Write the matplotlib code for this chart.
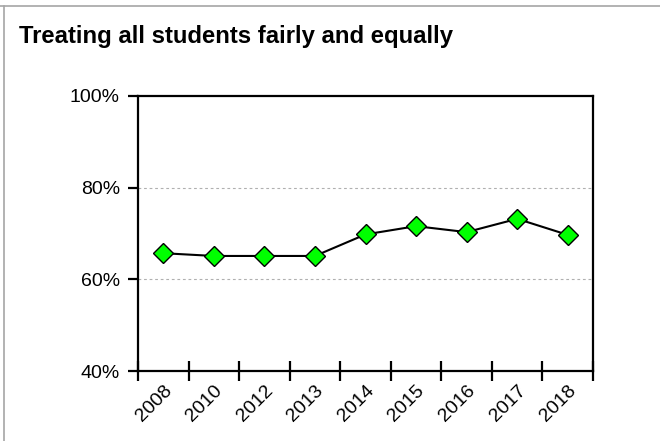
import matplotlib
matplotlib.use("Agg")
import matplotlib.pyplot as plt
from matplotlib.lines import Line2D
from matplotlib.ticker import FixedLocator, PercentFormatter

plt.rcParams["font.family"] = ["Liberation Sans", "DejaVu Sans"]

years = ["2008", "2010", "2012", "2013", "2014", "2015", "2016", "2017", "2018"]
values = [65.7, 65.1, 65.1, 65.1, 69.8, 71.6, 70.3, 73.2, 69.7]
y_ticks = [40, 60, 80, 100]

W, H, DPI = 660, 441, 100
fig = plt.figure(figsize=(W / DPI, H / DPI), dpi=DPI)
fig.patch.set_facecolor("white")

# plot area in pixel coordinates
left, right, top, bottom = 138, 593, 96, 371
ax = fig.add_axes([left / W, 1 - bottom / H, (right - left) / W, (bottom - top) / H])

# frame lines of the surrounding panel
fig.add_artist(Line2D([0, 1], [1 - 6 / H, 1 - 6 / H], transform=fig.transFigure,
                      color="#a6a6a6", lw=1.2))
fig.add_artist(Line2D([4.3 / W, 4.3 / W], [0, 1 - 6 / H], transform=fig.transFigure,
                      color="#a6a6a6", lw=1.2))

fig.text(19 / W, 1 - 43 / H, "Treating all students fairly and equally",
         fontsize=17.2, fontweight="bold", ha="left", va="baseline")

x = list(range(len(years)))
ax.plot(x, values, color="black", lw=1.5, marker="D", markersize=10,
        markerfacecolor="#00ff00", markeredgecolor="black", markeredgewidth=1.0,
        zorder=3)

ax.set_xlim(-0.5, len(years) - 0.5)
ax.set_ylim(40, 100)

for y in (60, 80):
    ax.axhline(y, color="#b0b0b0", lw=0.8, ls=(0, (2.5, 2.5)), zorder=1)

for s in ax.spines.values():
    s.set_linewidth(1.6)
    s.set_color("black")

ax.yaxis.set_major_locator(FixedLocator(y_ticks))
ax.yaxis.set_major_formatter(PercentFormatter(decimals=0))
ax.tick_params(axis="y", direction="out", length=7, width=1.6,
               labelsize=14, pad=6)

# category boundaries as crossing ticks, labels centred on categories
ax.set_xticks([i - 0.5 for i in range(len(years) + 1)], minor=True)
ax.set_xticks(x)
ax.set_xticklabels(years, rotation=45, ha="right", va="top",
                   rotation_mode="anchor", fontsize=14)
ax.tick_params(axis="x", which="minor", direction="inout", length=14, width=1.6)
ax.tick_params(axis="x", which="major", length=0, pad=8)

fig.savefig("out.png", dpi=DPI, facecolor="white")
